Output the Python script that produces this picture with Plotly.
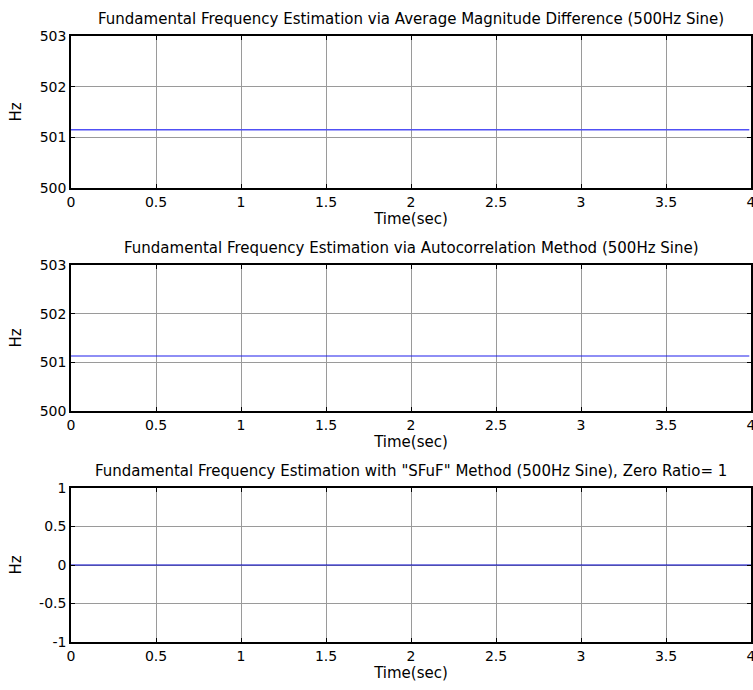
import plotly.graph_objects as go

# Data
time_amdf = [0.0, 3.99]
f0_amdf = [501.15, 501.15]
time_acf = [0.0, 3.99]
f0_acf = [501.13, 501.13]
time_sfuf = [0.0, 4.0]
f0_sfuf = [0.0, 0.0]

titles = [
    "Fundamental Frequency Estimation via Average Magnitude Difference (500Hz Sine)",
    "Fundamental Frequency Estimation via Autocorrelation Method (500Hz Sine)",
    "Fundamental Frequency Estimation with \"SFuF\" Method (500Hz Sine), Zero Ratio= 1",
]
x_ticks = [0, 0.5, 1, 1.5, 2, 2.5, 3, 3.5, 4]
x_ticklabels = ["0", "0.5", "1", "1.5", "2", "2.5", "3", "3.5", "4"]
y_ticks_12 = [500, 501, 502, 503]
y_ticks_3 = [-1, -0.5, 0, 0.5, 1]
y_ticklabels_3 = ["-1", "-0.5", "0", "0.5", "1"]

W, H = 753, 690
ML, MR, MT, MB = 71, 2, 36, 48
PH = H - MT - MB

def dom(top_px, bot_px):
    return [1 - (bot_px - MT) / PH, 1 - (top_px - MT) / PH]

domains = [dom(36, 188), dom(265, 411), dom(488, 642)]

font = "DejaVu Sans, Arial, sans-serif"
fig = go.Figure()
series = [(time_amdf, f0_amdf, "rgb(80,80,245)", 1.6),
          (time_acf, f0_acf, "rgb(30,30,235)", 1.2),
          (time_sfuf, f0_sfuf, "rgb(0,0,200)", 1.2)]
for i, (t, f, c, w) in enumerate(series):
    xa = "x" if i == 0 else f"x{i+1}"
    ya = "y" if i == 0 else f"y{i+1}"
    fig.add_trace(go.Scatter(x=t, y=f, mode="lines", line=dict(color=c, width=w),
                             xaxis=xa, yaxis=ya, showlegend=False))

axis_common = dict(
    showline=True, linecolor="black", linewidth=1.5, mirror="ticks",
    ticks="inside", ticklen=4, tickcolor="black", tickwidth=1,
    showgrid=True, gridcolor="#9a9a9a", gridwidth=1,
    zeroline=False, tickfont=dict(family=font, size=14, color="black"),
    ticklabeloverflow="allow", automargin=False,
)
layout = dict(width=W, height=H, margin=dict(l=ML, r=MR, t=MT, b=MB, autoexpand=False),
              plot_bgcolor="white", paper_bgcolor="white", showlegend=False)
for i in range(3):
    xk = "xaxis" if i == 0 else f"xaxis{i+1}"
    yk = "yaxis" if i == 0 else f"yaxis{i+1}"
    ya = "y" if i == 0 else f"y{i+1}"
    xa = "x" if i == 0 else f"x{i+1}"
    layout[xk] = dict(axis_common, domain=[0, 1], anchor=ya, range=[0, 4],
                      tickvals=x_ticks, ticktext=x_ticklabels,
                      title=dict(text="Time(sec)", font=dict(family=font, size=15, color="black"), standoff=1))
    if i < 2:
        layout[yk] = dict(axis_common, domain=domains[i], anchor=xa, range=[500, 503],
                          tickvals=y_ticks_12, ticktext=[str(v) for v in y_ticks_12],
                          title=dict(text="Hz", font=dict(family=font, size=15, color="black"), standoff=14))
    else:
        layout[yk] = dict(axis_common, domain=domains[i], anchor=xa, range=[-1, 1],
                          tickvals=y_ticks_3, ticktext=y_ticklabels_3,
                          title=dict(text="Hz", font=dict(family=font, size=15, color="black"), standoff=14))
fig.update_layout(**layout)

for i, txt in enumerate(titles):
    fig.add_annotation(text=txt, xref="paper", yref="paper", x=0.5, y=domains[i][1],
                       yshift=6, xanchor="center", yanchor="bottom", showarrow=False,
                       font=dict(family=font, size=15, color="black"))

fig.write_html("out.html")
